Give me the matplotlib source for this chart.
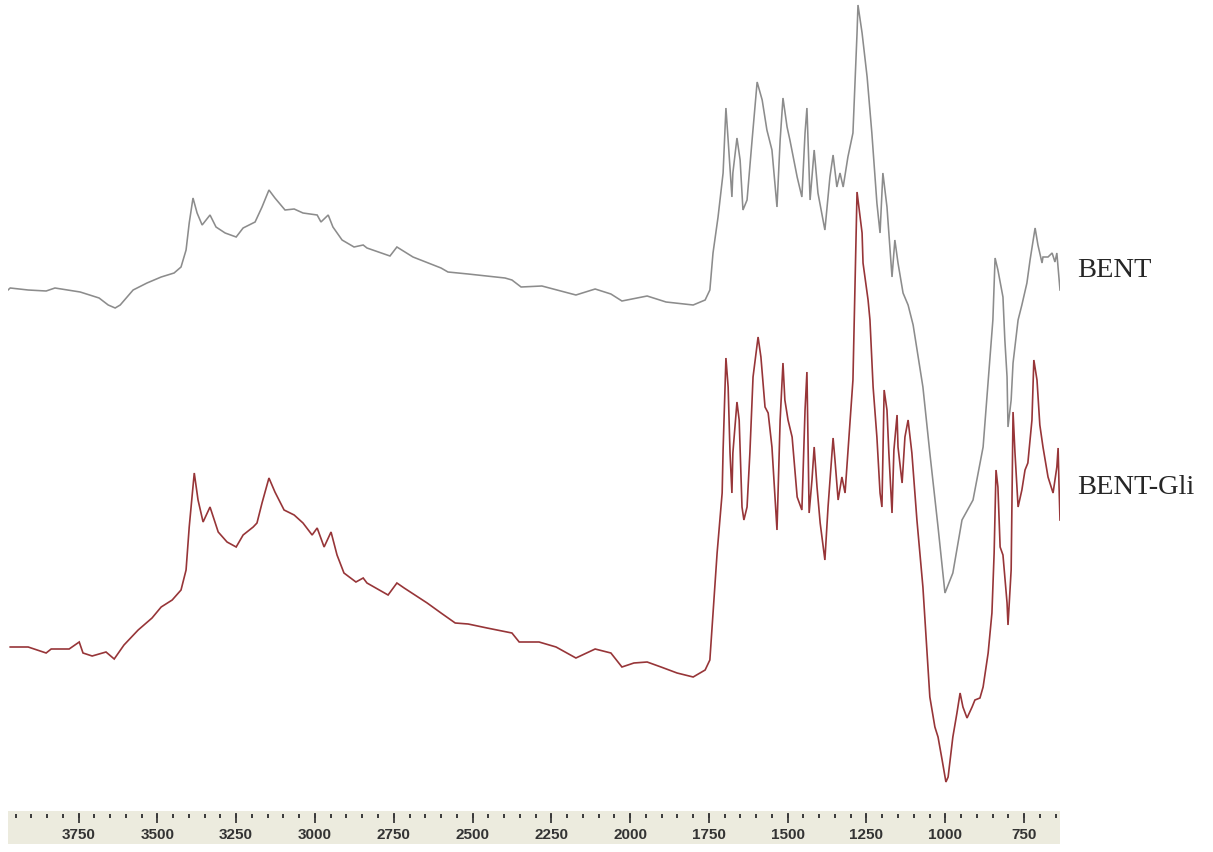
import numpy as np
import matplotlib
matplotlib.use("Agg")
import matplotlib.pyplot as plt
from matplotlib.transforms import blended_transform_factory

# FTIR spectra (wavenumber in cm-1, intensity in arbitrary units, stacked)
bent_wn = [3974, 3967, 3910, 3853, 3825, 3745, 3685, 3656, 3634, 3618, 3577, 3533,
           3488, 3447, 3425, 3409, 3399, 3387, 3374, 3358, 3333, 3314, 3285, 3250,
           3228, 3190, 3168, 3146, 3127, 3095, 3066, 3038, 2993, 2981, 2958, 2943,
           2914, 2876, 2847, 2835, 2762, 2740, 2689, 2600, 2578, 2514, 2397, 2375,
           2346, 2280, 2172, 2111, 2061, 2026, 1946, 1886, 1800, 1762, 1747, 1737,
           1721, 1705, 1696, 1689, 1677, 1674, 1661, 1651, 1642, 1629, 1613, 1597,
           1581, 1566, 1550, 1534, 1524, 1515, 1502, 1493, 1470, 1455, 1445, 1439,
           1429, 1416, 1404, 1382, 1366, 1356, 1344, 1334, 1324, 1309, 1293, 1280,
           1277, 1264, 1248, 1233, 1217, 1207, 1198, 1185, 1169, 1160, 1150, 1134,
           1118, 1102, 1071, 1049, 1023, 1001, 976, 947, 912, 880, 849, 842, 833,
           817, 811, 804, 801, 791, 785, 769, 757, 741, 731, 715, 706, 693, 690,
           674, 661, 652, 646, 636]
bent_int = [5.25, 5.27, 5.25, 5.24, 5.27, 5.23, 5.17, 5.10, 5.07, 5.10, 5.25, 5.32,
            5.38, 5.42, 5.48, 5.65, 5.92, 6.17, 6.02, 5.90, 6.00, 5.88, 5.82, 5.78,
            5.87, 5.93, 6.08, 6.25, 6.17, 6.05, 6.06, 6.02, 6.00, 5.93, 6.00, 5.88,
            5.75, 5.68, 5.70, 5.67, 5.59, 5.68, 5.58, 5.47, 5.43, 5.41, 5.37, 5.35,
            5.28, 5.29, 5.20, 5.26, 5.21, 5.14, 5.19, 5.13, 5.10, 5.15, 5.25, 5.62,
            5.98, 6.42, 7.07, 6.75, 6.18, 6.42, 6.77, 6.55, 6.05, 6.15, 6.75, 7.33,
            7.15, 6.85, 6.65, 6.08, 6.75, 7.17, 6.88, 6.75, 6.38, 6.18, 6.82, 7.07,
            6.15, 6.65, 6.22, 5.85, 6.38, 6.60, 6.28, 6.42, 6.28, 6.58, 6.82, 7.82,
            8.10, 7.82, 7.38, 6.82, 6.12, 5.82, 6.42, 6.08, 5.38, 5.75, 5.52, 5.22,
            5.10, 4.90, 4.28, 3.62, 2.88, 2.22, 2.42, 2.95, 3.15, 3.68, 4.95, 5.57, 5.45,
            5.18, 4.75, 4.38, 3.88, 4.15, 4.52, 4.95, 5.10, 5.32, 5.55, 5.87, 5.70, 5.52,
            5.58, 5.58, 5.62, 5.53, 5.62, 5.25]

gli_wn = [3967, 3910, 3853, 3837, 3780, 3748, 3736, 3707, 3663, 3637, 3606, 3561,
          3517, 3488, 3453, 3425, 3409, 3399, 3383, 3371, 3355, 3333, 3307, 3279,
          3250, 3228, 3196, 3184, 3168, 3146, 3127, 3098, 3066, 3038, 3009, 2993,
          2971, 2949, 2930, 2908, 2870, 2847, 2835, 2768, 2740, 2717, 2644, 2600,
          2555, 2514, 2454, 2375, 2352, 2289, 2235, 2172, 2111, 2061, 2026, 1988,
          1946, 1902, 1851, 1800, 1762, 1747, 1737, 1724, 1708, 1705, 1696, 1689,
          1683, 1677, 1674, 1661, 1654, 1645, 1639, 1629, 1620, 1610, 1594, 1585,
          1572, 1562, 1550, 1534, 1524, 1515, 1509, 1499, 1486, 1470, 1455, 1445,
          1439, 1432, 1423, 1416, 1407, 1397, 1382, 1372, 1356, 1350, 1340, 1328,
          1318, 1302, 1293, 1280, 1264, 1261, 1245, 1239, 1229, 1217, 1207, 1201,
          1194, 1185, 1179, 1169, 1163, 1153, 1150, 1137, 1128, 1118, 1106, 1090,
          1071, 1058, 1049, 1033, 1023, 1010, 998, 991, 976, 963, 953, 944, 931,
          915, 906, 890, 880, 864, 852, 845, 839, 833, 826, 817, 804, 801, 791,
          785, 779, 769, 757, 747, 738, 725, 719, 709, 700, 690, 674, 658, 646,
          642, 639, 636]
gli_int = [1.68, 1.68, 1.62, 1.66, 1.66, 1.73, 1.62, 1.59, 1.63, 1.56, 1.70, 1.85,
           1.97, 2.08, 2.15, 2.25, 2.45, 2.88, 3.42, 3.15, 2.93, 3.08, 2.83, 2.73,
           2.68, 2.80, 2.88, 2.92, 3.12, 3.37, 3.23, 3.05, 3.00, 2.92, 2.80, 2.87,
           2.68, 2.83, 2.60, 2.42, 2.33, 2.37, 2.32, 2.20, 2.32, 2.27, 2.12, 2.02,
           1.92, 1.91, 1.87, 1.82, 1.73, 1.73, 1.68, 1.57, 1.66, 1.62, 1.48, 1.52,
           1.53, 1.48, 1.42, 1.38, 1.45, 1.55, 2.02, 2.62, 3.22, 3.65, 4.57, 4.28,
           3.62, 3.22, 3.62, 4.13, 3.95, 3.08, 2.95, 3.08, 3.62, 4.38, 4.78, 4.58,
           4.08, 4.02, 3.68, 2.85, 3.95, 4.52, 4.15, 3.95, 3.78, 3.18, 3.05, 4.05,
           4.43, 3.02, 3.35, 3.68, 3.28, 2.92, 2.55, 3.08, 3.77, 3.55, 3.15, 3.38,
           3.22, 3.95, 4.35, 6.23, 5.82, 5.52, 5.15, 4.95, 4.28, 3.78, 3.22, 3.08,
           4.25, 4.05, 3.62, 3.02, 3.65, 4.00, 3.68, 3.32, 3.78, 3.95, 3.62, 2.95,
           2.28, 1.62, 1.18, 0.88, 0.78, 0.55, 0.33, 0.38, 0.78, 1.02, 1.22, 1.08, 0.97,
           1.08, 1.15, 1.17, 1.28, 1.62, 2.02, 2.62, 3.45, 3.28, 2.68, 2.60, 2.12, 1.90, 2.45,
           4.03, 3.63, 3.08, 3.25, 3.45, 3.52, 3.95, 4.55, 4.35, 3.90, 3.68, 3.38, 3.22, 3.48,
           3.67, 3.28, 2.95]

series_labels = ["BENT", "BENT-Gli"]
label_levels = [5.45, 3.28]

major_ticks = [3750, 3500, 3250, 3000, 2750, 2500, 2250, 2000, 1750, 1500, 1250, 1000, 750]
minor_ticks = list(range(3950, 649, -50))

WN_LEFT, WN_RIGHT = 3974, 636

W, H = 1213, 852
fig = plt.figure(figsize=(W / 100, H / 100), dpi=100)
fig.patch.set_facecolor("white")

# spectrum panel
ax_l, ax_r = 8 / W, 1060 / W
ax_bottom = (H - 811) / H
ax = fig.add_axes([ax_l, ax_bottom, ax_r - ax_l, 1 - ax_bottom])
ax.plot(bent_wn, bent_int, color="#8c8c8c", lw=1.15, solid_joinstyle="miter")
ax.plot(gli_wn, gli_int, color="#973538", lw=1.2, solid_joinstyle="miter")
ax.set_xlim(WN_LEFT, WN_RIGHT)
ax.set_ylim(0.04, 8.15)
ax.axis("off")

# series names beside the right end of each trace
label_tr = blended_transform_factory(fig.transFigure, ax.transData)
for name, lvl in zip(series_labels, label_levels):
    fig.text(1077 / W, lvl, name, transform=label_tr,
             family="Liberation Serif", fontsize=20.5,
             color="#262626", ha="left", va="center")

# ruler-style wavenumber scale
strip_top, strip_bot = 811, 844
sx = fig.add_axes([ax_l, (H - strip_bot) / H, ax_r - ax_l, (strip_bot - strip_top) / H])
sx.set_facecolor("#ecebde")
sx.set_xlim(WN_LEFT, WN_RIGHT)
sx.set_ylim(0, strip_bot - strip_top)
for s in sx.spines.values():
    s.set_visible(False)
sx.set_xticks([])
sx.set_yticks([])
h = strip_bot - strip_top
sx.vlines(minor_ticks, h - 7, h - 3, color="#3a3a3a", lw=1.4)
sx.vlines(major_ticks, h - 12, h - 2, color="#3a3a3a", lw=1.3)
for t in major_ticks:
    sx.text(t, 9, str(t), ha="center", va="center", family="Liberation Sans",
            fontsize=11, fontweight="bold", color="#333333")

fig.savefig("out.png", dpi=100, facecolor="white")
